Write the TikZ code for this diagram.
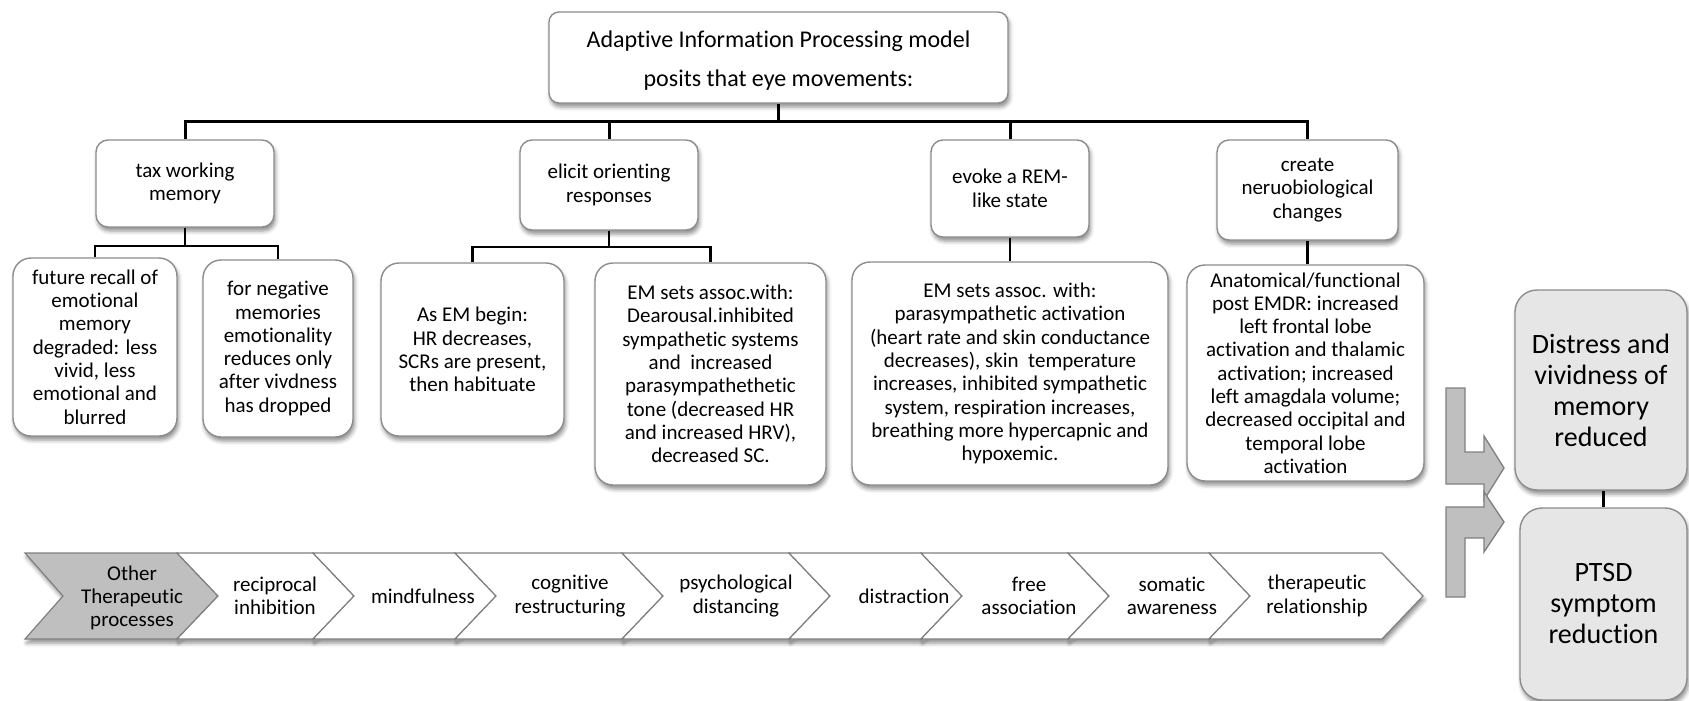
\documentclass[tikz,border=0pt]{standalone}
\usepackage{fontspec}
\setmainfont{Carlito}[Ligatures=NoCommon]
\usetikzlibrary{shadows.blur}
\definecolor{edge}{HTML}{8C8C8C}
\definecolor{darkedge}{HTML}{7F7F7F}
\definecolor{midgray}{HTML}{BFBFBF}
\definecolor{lightfill}{HTML}{E6E6E6}
\tikzset{
  bshadow/.style={blur shadow={shadow xshift=1.5pt, shadow yshift=-4pt, shadow blur radius=4pt, shadow opacity=45}},
  basebox/.style={draw=edge, line width=1.4pt, fill=white, align=center, inner sep=0pt, bshadow},
  topbox/.style={basebox, rounded corners=10pt},
  toptext/.style={align=center, inner sep=0pt, font=\fontsize{24}{39}\selectfont},
  midbox/.style={basebox, rounded corners=12pt, font=\fontsize{21}{23.5}\selectfont},
  leafbox/.style={basebox, rounded corners=18pt, font=\fontsize{21}{23.3}\selectfont},
  endbox/.style={basebox, fill=lightfill, rounded corners=22pt, font=\fontsize{28}{31}\selectfont},
  conn/.style={draw=black, line width=2.3pt},
  busline/.style={draw=black, line width=3pt},
  garrow/.style={fill=midgray, draw=darkedge, line width=1.3pt, line join=miter},
  chevshape/.style={draw=darkedge, line width=1.2pt, fill=white},
  chevshadow/.style={bshadow},
  chevtext/.style={align=center, inner sep=0pt, font=\fontsize{21}{23.3}\selectfont},
}
\begin{document}
\begin{tikzpicture}[x=1pt,y=-1pt]
\useasboundingbox (0,0) rectangle (1689,701);

% top box
\node[topbox, minimum width=459pt, minimum height=91pt] (top) at (778.5,57.5) {};
\node[toptext] (toptxt) at (778.5,61) {Adaptive Information Processing model\\posits that eye movements:};

% level 2
\node[midbox, minimum width=178pt, minimum height=87pt] (tax) at (185,183.5) {tax working\\memory};
\node[midbox, minimum width=178pt, minimum height=90pt] (elicit) at (609,185) {elicit orienting\\responses};
\node[midbox, minimum width=158pt, minimum height=97pt] (evoke) at (1010,188.5) {evoke a REM-\\like state};
\node[midbox, minimum width=181pt, minimum height=100pt] (create) at (1307.5,190) {create\\neruobiological\\changes};

% level 3
\node[leafbox, minimum width=164pt, minimum height=178pt] (fut) at (95,347) {future recall of\\emotional\\memory\\degraded: less\\vivid, less\\emotional and\\blurred};
\node[leafbox, minimum width=150pt, minimum height=177pt] (neg) at (278,348.5) {for negative\\memories\\emotionality\\reduces only\\after vivdness\\has dropped};
\node[leafbox, minimum width=183pt, minimum height=173pt] (asem) at (472.5,349.5) {As EM begin:\\HR decreases,\\SCRs are present,\\then habituate};
\node[leafbox, minimum width=231pt, minimum height=222pt] (dear) at (710.5,374) {EM sets assoc.with:\\Dearousal.inhibited\\sympathetic systems\\and\ \ increased\\parasympathethetic\\tone (decreased HR\\and increased HRV),\\decreased SC.};
\node[leafbox, minimum width=316pt, minimum height=223pt] (para) at (1010,373.5) {EM sets assoc. with:\\parasympathetic activation\\(heart rate and skin conductance\\decreases), skin\ \ temperature\\increases, inhibited sympathetic\\system, respiration increases,\\breathing more hypercapnic and\\hypoxemic.};
\node[leafbox, minimum width=237pt, minimum height=216pt] (anat) at (1305.5,373) {Anatomical/functional\\post EMDR: increased\\left frontal lobe\\activation and thalamic\\activation; increased\\left amagdala volume;\\decreased occipital and\\temporal lobe\\activation};

% outcome boxes
\node[endbox, minimum width=172pt, minimum height=200pt] (dist) at (1601,390) {Distress and\\vividness of\\memory\\reduced};
\node[endbox, minimum width=167pt, minimum height=192pt] (ptsd) at (1603.5,604) {PTSD\\symptom\\reduction};

% connectors
\coordinate (bus) at (0,121);
\draw[busline] (top.south) -- (top.south |- bus);
\draw[busline] (tax.north) -- (tax.north |- bus) -| (create.north);
\draw[busline] (elicit.north) -- (elicit.north |- bus);
\draw[busline] (evoke.north) -- (evoke.north |- bus);
\coordinate (sba) at (0,246);
\draw[conn] (tax.south) -- (tax.south |- sba);
\draw[conn] (fut.north) -- (fut.north |- sba) -| (neg.north);
\coordinate (sbb) at (0,247);
\draw[conn] (elicit.south) -- (elicit.south |- sbb);
\draw[conn] (asem.north) -- (asem.north |- sbb) -| (dear.north);
\draw[conn] (evoke.south) -- (para.north);
\draw[conn] (create.south) -- (create.south |- anat.north);
\draw[conn] (ptsd.north) -- (ptsd.north |- dist.south);

% gray bent arrows
\draw[garrow] (1446,388) -- (1465,388) -- (1465,452) -- (1484,452) -- (1484,436) -- (1504,468) -- (1484,500) -- (1484,484) -- (1446,484) -- cycle;
\draw[garrow] (1446,507) -- (1484,507) -- (1484,492) -- (1504,522) -- (1484,552) -- (1484,538) -- (1465,538) -- (1465,597) -- (1446,597) -- cycle;

% chevron row: shadows first
\foreach \a/\b/\n in {25/177/38, 177/313/41, 313/455/41, 455/622/41, 622/789/41, 789/921/41, 921/1068/41, 1068/1209/41, 1209/1382/41}{
  \path[chevshadow, fill=white] (\a,553) -- (\b,553) -- (\b+41,596) -- (\b,639) -- (\a,639) -- (\a+\n,596) -- cycle;
}
\draw[chevshape, fill=midgray] (25,553) -- (177,553) -- (218,596) -- (177,639) -- (25,639) -- (63,596) -- cycle;
\foreach \a/\b in {177/313, 313/455, 455/622, 622/789, 789/921, 921/1068, 1068/1209, 1209/1382}{
  \draw[chevshape] (\a,553) -- (\b,553) -- (\b+41,596) -- (\b,639) -- (\a,639) -- (\a+41,596) -- cycle;
}
\node[chevtext] (c1) at (132,598) {Other\\Therapeutic\\processes};
\node[chevtext] (c2) at (275,596) {reciprocal\\inhibition};
\node[chevtext] (c3) at (423,596) {mindfulness};
\node[chevtext] (c4) at (570,596) {cognitive\\restructuring};
\node[chevtext] (c5) at (736,596) {psychological\\distancing};
\node[chevtext] (c6) at (904,596) {distraction};
\node[chevtext] (c7) at (1029,596) {free\\association};
\node[chevtext] (c8) at (1172,596) {somatic\\awareness};
\node[chevtext] (c9) at (1317,596) {therapeutic\\relationship};
\end{tikzpicture}
\end{document}
